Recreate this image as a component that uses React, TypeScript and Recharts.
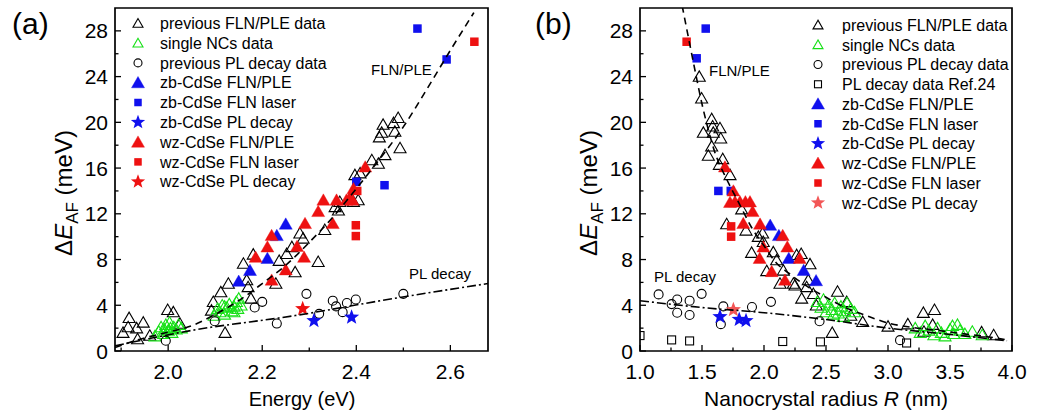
import React from 'react';
import { ScatterChart, Scatter, XAxis, YAxis, ReferenceArea } from 'recharts';

type P = [number, number];
const FONT = '"Liberation Sans", Arial, Helvetica, sans-serif';
const BLUE = '#1010ee';
const RED = '#ee1111';
const GREEN = '#16e016';
const LIGHTRED = '#f25656';

// ---------- panel (a): Energy (eV) vs dE_AF (meV) ----------
const aPrevFLN: P[] = [
  [1.904, 1.6], [1.915, 2.1], [1.917, 2.9], [1.933, 2.0], [1.935, 1.05], [1.947, 2.5], [1.961, 1.35],
  [1.999, 3.6], [2.011, 3.4], [2.025, 2.4], [2.092, 3.55], [2.096, 4.3], [2.112, 5.15], [2.121, 1.6],
  [2.128, 5.9], [2.16, 7.65], [2.167, 6.2], [2.17, 5.6], [2.176, 4.6], [2.181, 8.45], [2.229, 5.9],
  [2.236, 7.9], [2.252, 8.5], [2.263, 9.1], [2.27, 6.9], [2.28, 10.3], [2.287, 9.85], [2.319, 7.8],
  [2.333, 10.6], [2.355, 12.6], [2.362, 12.3], [2.365, 13.05], [2.394, 13.05], [2.404, 13.2],
  [2.397, 15.4], [2.408, 15.55], [2.433, 16.7], [2.447, 16.4], [2.449, 18.7], [2.454, 19.1],
  [2.457, 19.8], [2.461, 17.15], [2.479, 19.95], [2.482, 19.2], [2.489, 20.4], [2.493, 17.75],
];
const aSingleNC: P[] = [
  [1.972, 1.3], [1.98, 1.7], [1.985, 2.1], [1.99, 1.5], [1.995, 2.3], [2.0, 1.8], [2.003, 2.5],
  [2.008, 1.6], [2.012, 2.1], [2.017, 1.9], [2.022, 2.3], [2.028, 2.0], [1.992, 1.9], [2.005, 2.0],
  [2.098, 3.1], [2.105, 3.7], [2.11, 3.4], [2.115, 4.0], [2.12, 3.2], [2.125, 3.8], [2.13, 4.1],
  [2.135, 3.5], [2.14, 3.9], [2.145, 4.3], [2.15, 4.6], [2.155, 4.0], [2.12, 3.9], [2.14, 3.4], [2.148, 3.7],
];
const aPrevPL: P[] = [
  [1.995, 0.9], [2.099, 2.6], [2.184, 3.8], [2.2, 4.3], [2.231, 2.4], [2.294, 5.0], [2.321, 3.25],
  [2.35, 4.4], [2.357, 3.9], [2.371, 3.4], [2.38, 4.2], [2.399, 4.5], [2.5, 5.0],
];
const aZbFLN: P[] = [[2.15, 6.1], [2.174, 7.05], [2.211, 8.1], [2.231, 10.1], [2.25, 11.1]];
const aZbLaser: P[] = [[2.53, 28.2], [2.592, 25.5], [2.46, 14.5], [2.4, 14.8]];
const aZbPL: P[] = [[2.31, 2.65], [2.39, 2.95]];
const aWzFLN: P[] = [
  [2.186, 8.2], [2.211, 9.1], [2.22, 10.1], [2.22, 6.2], [2.25, 7.1], [2.274, 9.15], [2.289, 8.2],
  [2.291, 11.15], [2.319, 12.2], [2.33, 13.2], [2.35, 11.15], [2.358, 13.2], [2.379, 13.2],
  [2.392, 13.2], [2.387, 13.5], [2.394, 14.2], [2.419, 16.1],
];
const aWzLaser: P[] = [[2.651, 27.05], [2.399, 11.0], [2.399, 10.05], [2.402, 14.0]];
const aWzPL: P[] = [[2.286, 3.7]];
const aFitFLN: P[] = [
  [1.887, 0.3], [1.95, 1.15], [2.0, 1.65], [2.05, 2.2], [2.1, 3.2], [2.15, 4.4], [2.2, 5.9],
  [2.25, 7.5], [2.3, 9.5], [2.35, 11.7], [2.4, 14.2], [2.45, 16.8], [2.5, 19.6], [2.55, 22.9],
  [2.6, 26.3], [2.65, 29.6],
];
const aFitPL: P[] = [[1.887, 0.45], [2.05, 1.8], [2.27, 3.1], [2.48, 4.6], [2.68, 5.9]];
const aXDomain: [number, number] = [1.887, 2.68];
const aXMajor = [2.0, 2.2, 2.4, 2.6];
const aXMinor = [1.9, 2.1, 2.3, 2.5];

// ---------- panel (b): radius R (nm) vs dE_AF (meV) ----------
const bPrevFLN: P[] = [
  [1.478, 24.0], [1.497, 22.1], [1.511, 19.1], [1.551, 17.1], [1.578, 20.3], [1.578, 17.9],
  [1.586, 19.65], [1.591, 19.1], [1.64, 16.3], [1.645, 19.5], [1.651, 18.6], [1.667, 16.8],
  [1.726, 15.4], [1.699, 11.1], [1.82, 12.4], [1.855, 10.55], [1.9, 8.6], [1.954, 10.0],
  [1.989, 10.3], [1.994, 9.55], [2.022, 7.0], [2.075, 8.65], [2.102, 7.95], [2.129, 5.9],
  [2.156, 7.05], [2.237, 5.9], [2.25, 5.75], [2.263, 8.4], [2.3, 8.5], [2.304, 4.6], [2.344, 5.6],
  [2.357, 6.2], [2.371, 7.6], [2.398, 5.0], [2.422, 4.0], [2.55, 1.6], [2.593, 5.2], [2.667, 4.3],
  [2.7, 3.1], [2.796, 2.55], [3.0, 2.15], [3.16, 2.35], [3.285, 3.35], [3.375, 3.6], [3.36, 2.3],
  [3.29, 1.7], [3.755, 1.65], [3.852, 1.4],
];
const bSingleNC: P[] = [
  [2.43, 4.3], [2.46, 3.8], [2.48, 4.5], [2.5, 3.4], [2.52, 4.0], [2.55, 3.6], [2.57, 4.2],
  [2.6, 3.3], [2.62, 3.9], [2.65, 3.5], [2.67, 4.2], [2.7, 3.7], [2.73, 3.4], [2.56, 3.2], [2.64, 3.0],
  [3.22, 2.0], [3.26, 1.6], [3.3, 2.2], [3.33, 1.8], [3.37, 1.4], [3.4, 2.0], [3.43, 1.6], [3.46, 1.3],
  [3.5, 1.9], [3.53, 1.5], [3.56, 2.3], [3.58, 1.8], [3.62, 1.5], [3.68, 1.7], [3.76, 1.4], [3.52, 2.2],
];
const bPrevPL: P[] = [
  [1.15, 4.95], [1.255, 4.1], [1.3, 4.5], [1.3, 3.35], [1.4, 4.4], [1.4, 3.15], [1.497, 5.0],
  [1.652, 2.35], [1.672, 3.9], [1.903, 3.85], [2.056, 4.3], [2.448, 2.6], [3.097, 0.95],
];
const bRef24: P[] = [[1.0, 1.35], [1.255, 0.97], [1.4, 0.88], [2.151, 0.83], [2.455, 0.8], [3.15, 0.7]];
const bZbFLN: P[] = [[2.05, 11.0], [2.12, 10.1], [2.2, 8.1], [2.32, 7.05], [2.42, 6.15]];
const bZbLaser: P[] = [[1.53, 28.2], [1.457, 25.6], [1.632, 14.0], [1.732, 14.0]];
const bZbPL: P[] = [[1.645, 3.0], [1.8, 2.75], [1.855, 2.65]];
const bWzFLN: P[] = [
  [1.685, 16.1], [1.753, 14.0], [1.726, 13.0], [1.766, 13.05], [1.806, 13.05], [1.85, 13.05],
  [1.887, 13.05], [1.908, 12.2], [1.833, 11.15], [1.968, 11.1], [1.995, 9.1], [1.965, 8.1],
  [2.062, 6.95], [2.169, 6.2], [2.151, 10.1], [2.188, 9.1], [2.288, 8.1],
];
const bWzLaser: P[] = [[1.376, 27.05], [1.735, 10.9], [1.735, 10.0]];
const bWzPL: P[] = [[1.753, 3.6]];
const bFitFLN: P[] = [
  [1.34, 30.2], [1.4, 26.9], [1.45, 24.2], [1.5, 21.6], [1.55, 19.4], [1.6, 17.5], [1.7, 15.0],
  [1.8, 12.9], [1.9, 10.8], [2.0, 9.2], [2.1, 7.7], [2.2, 6.8], [2.3, 6.0], [2.4, 5.3], [2.5, 4.7],
  [2.6, 4.1], [2.7, 3.6], [2.8, 3.2], [3.0, 2.45], [3.2, 2.05], [3.4, 1.8], [3.6, 1.52],
  [3.8, 1.25], [3.96, 0.97],
];
const bFitPL: P[] = [[1.0, 4.4], [1.5, 3.8], [2.0, 3.35], [2.5, 2.75], [3.0, 2.0], [3.5, 1.45], [3.96, 0.9]];
const bXDomain: [number, number] = [1.0, 4.0];
const bXMajor = [1.0, 1.5, 2.0, 2.5, 3.0, 3.5, 4.0];
const bXMinor = [1.25, 1.75, 2.25, 2.75, 3.25, 3.75];

// shared y axis
const yDomain: [number, number] = [0, 30];
const yMajor = [0, 4, 8, 12, 16, 20, 24, 28];
const yMinor = [2, 6, 10, 14, 18, 22, 26];

const legendA = [
  'previous FLN/PLE data', 'single NCs data', 'previous PL decay data',
  'zb-CdSe FLN/PLE', 'zb-CdSe FLN laser', 'zb-CdSe PL decay',
  'wz-CdSe FLN/PLE', 'wz-CdSe FLN laser', 'wz-CdSe PL decay',
];
const legendB = [
  'previous FLN/PLE data', 'single NCs data', 'previous PL decay data', 'PL decay data Ref.24',
  'zb-CdSe FLN/PLE', 'zb-CdSe FLN laser', 'zb-CdSe PL decay',
  'wz-CdSe FLN/PLE', 'wz-CdSe FLN laser', 'wz-CdSe PL decay',
];

type Kind = 'triO' | 'triF' | 'sqF' | 'sqO' | 'cirO' | 'star';

function Glyph({ kind, cx, cy, color, s }: { kind: Kind; cx: number; cy: number; color: string; s: number }) {
  if (cx == null || cy == null || isNaN(cx) || isNaN(cy)) return <g />;
  if (kind === 'triO' || kind === 'triF') {
    const h = s * 0.87;
    const pts = `${cx},${cy - h * 0.55} ${cx - s / 2},${cy + h * 0.45} ${cx + s / 2},${cy + h * 0.45}`;
    return kind === 'triO'
      ? <polygon points={pts} fill="none" stroke={color} strokeWidth={1.1} strokeLinejoin="miter" />
      : <polygon points={pts} fill={color} stroke={color} strokeWidth={0.4} />;
  }
  if (kind === 'sqF') return <rect x={cx - s / 2} y={cy - s / 2} width={s} height={s} fill={color} />;
  if (kind === 'sqO') return <rect x={cx - s / 2} y={cy - s / 2} width={s} height={s} fill="none" stroke={color} strokeWidth={1.1} />;
  if (kind === 'cirO') return <circle cx={cx} cy={cy} r={s / 2} fill="none" stroke={color} strokeWidth={1.1} />;
  const R = s / 2;
  const r = R * 0.42;
  const pts: string[] = [];
  for (let i = 0; i < 10; i++) {
    const a = (-90 + i * 36) * Math.PI / 180;
    const rr = i % 2 === 0 ? R : r;
    pts.push(`${cx + rr * Math.cos(a)},${cy + rr * Math.sin(a)}`);
  }
  return <polygon points={pts.join(' ')} fill={color} />;
}

type Series = { data: P[]; kind: Kind; color: string; s: number; ls: number };

const seriesA: Series[] = [
  { data: aPrevFLN, kind: 'triO', color: '#000', s: 12, ls: 10 },
  { data: aSingleNC, kind: 'triO', color: GREEN, s: 12, ls: 10 },
  { data: aPrevPL, kind: 'cirO', color: '#000', s: 9, ls: 8 },
  { data: aZbFLN, kind: 'triF', color: BLUE, s: 13, ls: 13 },
  { data: aZbLaser, kind: 'sqF', color: BLUE, s: 8.5, ls: 7.5 },
  { data: aZbPL, kind: 'star', color: BLUE, s: 16, ls: 15 },
  { data: aWzFLN, kind: 'triF', color: RED, s: 13, ls: 13 },
  { data: aWzLaser, kind: 'sqF', color: RED, s: 8.5, ls: 7.5 },
  { data: aWzPL, kind: 'star', color: RED, s: 16, ls: 15 },
];
const seriesB: Series[] = [
  { data: bPrevFLN, kind: 'triO', color: '#000', s: 12, ls: 10 },
  { data: bSingleNC, kind: 'triO', color: GREEN, s: 12, ls: 10 },
  { data: bPrevPL, kind: 'cirO', color: '#000', s: 9, ls: 8 },
  { data: bRef24, kind: 'sqO', color: '#000', s: 8, ls: 7 },
  { data: bZbFLN, kind: 'triF', color: BLUE, s: 13, ls: 13 },
  { data: bZbLaser, kind: 'sqF', color: BLUE, s: 8.5, ls: 7.5 },
  { data: bZbPL, kind: 'star', color: BLUE, s: 16, ls: 15 },
  { data: bWzFLN, kind: 'triF', color: RED, s: 13, ls: 13 },
  { data: bWzLaser, kind: 'sqF', color: RED, s: 8.5, ls: 7.5 },
  { data: bWzPL, kind: 'star', color: LIGHTRED, s: 16, ls: 15 },
];

const toXY = (a: P[]) => a.map(([x, y]) => ({ x, y }));
const isIn = (arr: number[], v: number) => arr.some((m) => Math.abs(m - v) < 1e-6);

const X_MARGIN = 12;
const Y_MARGIN = 7;
const TICK_FS = 21;

const makeXTick = (major: number[]) => (props: any) => {
  const { x, y, payload } = props;
  const v = payload.value as number;
  const maj = isIn(major, v);
  const ay = y - X_MARGIN;
  return (
    <g>
      <line x1={x} x2={x} y1={ay} y2={ay - (maj ? 6 : 3.5)} stroke="#000" strokeWidth={1.3} />
      {maj && (
        <text x={x} y={ay + X_MARGIN} dy="0.75em" textAnchor="middle" fontSize={TICK_FS} fontFamily={FONT} fill="#000">
          {v.toFixed(1)}
        </text>
      )}
    </g>
  );
};
const makeYTick = (major: number[]) => (props: any) => {
  const { x, y, payload } = props;
  const v = payload.value as number;
  const maj = isIn(major, v);
  const ax = x + Y_MARGIN;
  return (
    <g>
      <line x1={ax} x2={ax + (maj ? 6 : 3.5)} y1={y} y2={y} stroke="#000" strokeWidth={1.3} />
      {maj && (
        <text x={x} y={y} dy="0.36em" textAnchor="end" fontSize={TICK_FS} fontFamily={FONT} fill="#000">
          {String(v)}
        </text>
      )}
    </g>
  );
};

function Panel({ width, margin, xDomain, xMajor, xMinor, series, fitFLN, fitPL }: {
  width: number; margin: any; xDomain: [number, number]; xMajor: number[]; xMinor: number[];
  series: Series[]; fitFLN: P[]; fitPL: P[];
}) {
  const xt = [...xMajor, ...xMinor].sort((a, b) => a - b);
  const yt = [...yMajor, ...yMinor].sort((a, b) => a - b);
  return (
    <ScatterChart width={width} height={417} margin={margin}>
      <XAxis type="number" dataKey="x" domain={xDomain} allowDataOverflow ticks={xt} interval={0}
        tickLine={false} axisLine={false} tickSize={0} tickMargin={X_MARGIN} height={30} tick={makeXTick(xMajor)} />
      <YAxis type="number" dataKey="y" domain={yDomain} allowDataOverflow ticks={yt} interval={0}
        tickLine={false} axisLine={false} tickSize={0} tickMargin={Y_MARGIN} width={60} tick={makeYTick(yMajor)} />
      {series.map((se, i) => (
        <Scatter key={i} data={toXY(se.data)} isAnimationActive={false}
          shape={(p: any) => <Glyph kind={se.kind} cx={p.cx} cy={p.cy} color={se.color} s={se.s} />} />
      ))}
      <Scatter data={toXY(fitFLN)} isAnimationActive={false} lineJointType="monotoneX" fill="#000"
        line={{ stroke: '#000', strokeWidth: 1.6, strokeDasharray: '7 5' }} shape={() => <g />} />
      <Scatter data={toXY(fitPL)} isAnimationActive={false} lineJointType="monotoneX" fill="#000"
        line={{ stroke: '#000', strokeWidth: 1.6, strokeDasharray: '9 3 2 3' }} shape={() => <g />} />
      <ReferenceArea x1={xDomain[0]} x2={xDomain[1]} y1={yDomain[0]} y2={yDomain[1]}
        fill="none" stroke="#000" strokeWidth={1.7} fillOpacity={0} ifOverflow="visible" />
    </ScatterChart>
  );
}

function LegendBlock({ labels, series, symX, textX, y0, dy }: {
  labels: string[]; series: Series[]; symX: number; textX: number; y0: number; dy: number;
}) {
  return (
    <g>
      {labels.map((lab, i) => {
        const y = y0 + i * dy;
        const se = series[i];
        return (
          <g key={i}>
            <Glyph kind={se.kind} cx={symX} cy={y} color={se.color} s={se.ls} />
            <text x={textX} y={y} dy="0.36em" fontSize={16} fontFamily={FONT} fill="#000">{lab}</text>
          </g>
        );
      })}
    </g>
  );
}

function YLabel({ cx, cy }: { cx: number; cy: number }) {
  return (
    <text x={cx} y={cy} transform={`rotate(-90 ${cx} ${cy})`} textAnchor="middle" fontSize={24} fontFamily={FONT} fill="#000">
      <tspan>Δ</tspan>
      <tspan fontStyle="italic">E</tspan>
      <tspan fontSize={17} dy={6}>AF</tspan>
      <tspan dy={-6}> (meV)</tspan>
    </text>
  );
}

export default function App() {
  return (
    <div style={{ position: 'absolute', left: 0, top: 0, width: 1052, height: 417, background: '#fff', overflow: 'hidden' }}>
      <div style={{ position: 'absolute', left: 0, top: 0 }}>
        <Panel width={520} margin={{ top: 8, right: 32, bottom: 36, left: 55 }} xDomain={aXDomain}
          xMajor={aXMajor} xMinor={aXMinor} series={seriesA} fitFLN={aFitFLN} fitPL={aFitPL} />
      </div>
      <div style={{ position: 'absolute', left: 520, top: 0 }}>
        <Panel width={532} margin={{ top: 8, right: 40, bottom: 36, left: 60 }} xDomain={bXDomain}
          xMajor={bXMajor} xMinor={bXMinor} series={seriesB} fitFLN={bFitFLN} fitPL={bFitPL} />
      </div>
      <svg width={1052} height={417} style={{ position: 'absolute', left: 0, top: 0, pointerEvents: 'none' }}>
        <text x={12} y={34} fontSize={30} fontFamily={FONT} fill="#000">(a)</text>
        <text x={535} y={34} fontSize={30} fontFamily={FONT} fill="#000">(b)</text>
        <LegendBlock labels={legendA} series={seriesA} symX={138} textX={160} y0={23.3} dy={19.8} />
        <LegendBlock labels={legendB} series={seriesB} symX={818} textX={842} y0={25} dy={19.75} />
        <text x={371} y={70} dy="0.36em" fontSize={15} fontFamily={FONT} fill="#000">FLN/PLE</text>
        <text x={409} y={274} dy="0.36em" fontSize={15} fontFamily={FONT} fill="#000">PL decay</text>
        <text x={709} y={71} dy="0.36em" fontSize={15} fontFamily={FONT} fill="#000">FLN/PLE</text>
        <text x={654} y={277} dy="0.36em" fontSize={15} fontFamily={FONT} fill="#000">PL decay</text>
        <text x={302} y={406} textAnchor="middle" fontSize={20} fontFamily={FONT} fill="#000">Energy (eV)</text>
        <text x={826} y={406} textAnchor="middle" fontSize={21} fontFamily={FONT} fill="#000">
          <tspan>Nanocrystal radius </tspan>
          <tspan fontStyle="italic">R</tspan>
          <tspan> (nm)</tspan>
        </text>
        <YLabel cx={72} cy={193} />
        <YLabel cx={597} cy={193} />
      </svg>
    </div>
  );
}
